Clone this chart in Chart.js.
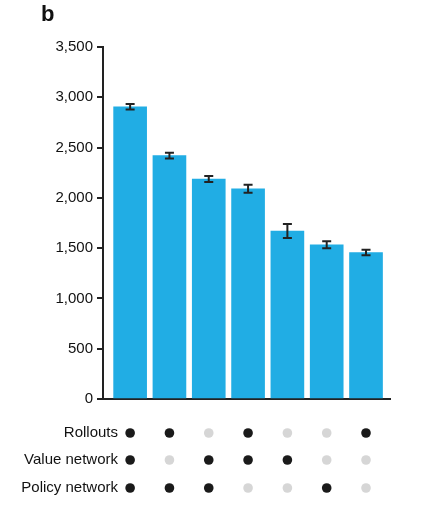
<!DOCTYPE html>
<html>
<head>
<meta charset="utf-8">
<script src="https://cdn.jsdelivr.net/npm/chart.js@4"></script>
<style>
  html, body { margin: 0; padding: 0; background: #fff; }
  #wrap { position: relative; width: 421px; height: 518px; }
</style>
</head>
<body>
<div id="wrap"><canvas id="myChart" width="421" height="518"></canvas></div>
<script>
// bar heights (Elo) and error half-widths
var elo = [2905, 2420, 2187, 2090, 1670, 1534, 1456];
var eloErr = [27, 28, 30, 40, 70, 35, 27];
var yTicks = [0, 500, 1000, 1500, 2000, 2500, 3000, 3500];
// 1 = component used, 0 = not used
var rowNames = ['Rollouts', 'Value network', 'Policy network'];
var rollouts = [1, 1, 0, 1, 0, 0, 1];
var valueNet = [1, 0, 1, 1, 1, 0, 0];
var policyNet = [1, 1, 1, 0, 0, 1, 0];
var rows = [rollouts, valueNet, policyNet];

const FONT = 'Liberation Sans, Arial, sans-serif';

const extras = {
    id: 'extras',
    afterDatasetsDraw(chart) {
        const ctx = chart.ctx, x = chart.scales.x, y = chart.scales.y;
        ctx.save();
        // error bars
        ctx.strokeStyle = '#222';
        ctx.lineWidth = 2;
        elo.forEach(function (v, i) {
            var cx = x.getPixelForValue(i);
            var t = y.getPixelForValue(v + eloErr[i]), b = y.getPixelForValue(v - eloErr[i]);
            ctx.beginPath();
            ctx.moveTo(cx, t); ctx.lineTo(cx, b);
            ctx.moveTo(cx - 4.5, t); ctx.lineTo(cx + 4.5, t);
            ctx.moveTo(cx - 4.5, b); ctx.lineTo(cx + 4.5, b);
            ctx.stroke();
        });
        // dot matrix
        var rowY = [433, 460, 488];
        ctx.font = '15px ' + FONT;
        ctx.textAlign = 'right';
        ctx.textBaseline = 'middle';
        rows.forEach(function (r, k) {
            ctx.fillStyle = '#111';
            ctx.fillText(rowNames[k], 118, rowY[k]);
            r.forEach(function (on, i) {
                ctx.fillStyle = on ? '#1a1a1a' : '#d6d6d6';
                ctx.beginPath();
                ctx.arc(x.getPixelForValue(i), rowY[k], 4.8, 0, Math.PI * 2);
                ctx.fill();
            });
        });
        // panel letter
        ctx.fillStyle = '#111';
        ctx.textAlign = 'left';
        ctx.font = 'bold 22px ' + FONT;
        ctx.fillText('b', 41, 15);
        ctx.restore();
    }
};

const GRAPH = document.getElementById('myChart');
const barGraph = new Chart(GRAPH, {
    type: 'bar',
    data: {
        datasets: [{
            data: elo.map(function (v, i) { return { x: i, y: v }; }),
            backgroundColor: '#21ade4',
            barThickness: 33
        }]
    },
    options: {
        responsive: false,
        animation: false,
        events: [],
        layout: { padding: { top: 47, bottom: 111, right: 31, left: 0 } },
        plugins: { legend: { display: false }, tooltip: { enabled: false } },
        scales: {
            x: {
                type: 'linear',
                offset: false,
                min: -0.69, max: 6.61,
                ticks: { display: false },
                grid: { display: false, offset: false },
                border: { color: '#222', width: 2 }
            },
            y: {
                min: 0, max: 3500,
                afterFit: function (s) { s.width = 103; },
                afterBuildTicks: function (s) { s.ticks = yTicks.map(function (v) { return { value: v }; }); },
                ticks: {
                    color: '#111',
                    font: { family: FONT, size: 15 },
                    padding: 4,
                    callback: function (v) { return v.toLocaleString('en-US'); }
                },
                grid: { drawOnChartArea: false, drawTicks: true, tickLength: 6, color: '#222', lineWidth: 2 },
                border: { color: '#222', width: 2 }
            }
        }
    },
    plugins: [extras]
});
</script>
</body>
</html>
